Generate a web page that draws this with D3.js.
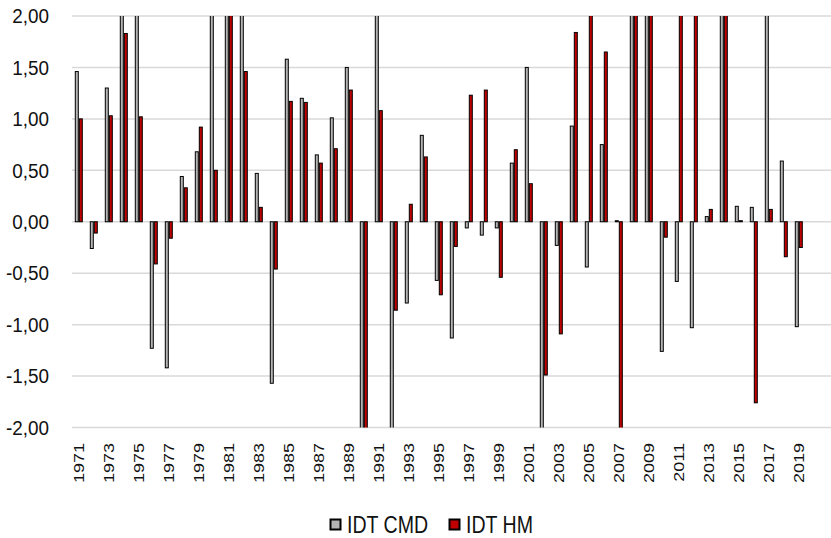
<!DOCTYPE html>
<meta charset="utf-8">
<style>
body { margin: 0; background: #fff; }
text { font-family: "Liberation Sans", Arial, sans-serif; fill: #111; }
.grid line { stroke: #d9d9d9; stroke-width: 1.5; }
.bar { stroke: #000; stroke-width: 1; }
</style>
<svg id="chart" width="831" height="538"></svg>
<script src="https://cdn.jsdelivr.net/npm/d3@7"></script>
<script>
// years 1971..2019, two series (values beyond +/-2 are cut off by the axis)
var years = [1971,1972,1973,1974,1975,1976,1977,1978,1979,1980,1981,1982,1983,1984,1985,1986,1987,1988,1989,1990,
             1991,1992,1993,1994,1995,1996,1997,1998,1999,2000,2001,2002,2003,2004,2005,2006,2007,2008,2009,2010,
             2011,2012,2013,2014,2015,2016,2017,2018,2019];

var idtCMD = [1.46,-0.26,1.30,2.60,2.30,-1.23,-1.42,0.44,0.68,2.40,2.80,2.20,0.47,-1.57,1.58,1.20,0.65,1.01,1.50,-2.60,
              2.50,-2.40,-0.79,0.84,-0.57,-1.13,-0.06,-0.13,-0.06,0.57,1.50,-2.20,-0.23,0.93,-0.44,0.75,0.01,2.90,2.70,-1.26,
              -0.58,-1.03,0.05,2.40,0.15,0.14,2.50,0.59,-1.02];

var idtHM  = [1.00,-0.11,1.03,1.83,1.02,-0.41,-0.16,0.33,0.92,0.50,2.50,1.46,0.14,-0.46,1.17,1.16,0.57,0.71,1.28,-2.30,
              1.08,-0.86,0.17,0.63,-0.71,-0.24,1.23,1.28,-0.54,0.70,0.37,-1.49,-1.09,1.84,2.30,1.65,-2.50,3.20,2.40,-0.15,
              2.60,2.30,0.12,2.70,0.01,-1.76,0.12,-0.34,-0.25];

var seriesKeys = ["IDT CMD", "IDT HM"];
var seriesColors = ["#b4b4b4", "#c00000"];
var yTicks = [-2,-1.5,-1,-0.5,0,0.5,1,1.5,2];
var xTickYears = years.filter(function(d){ return d % 2 === 1; });

var svg = d3.select("#chart"),
    width = +svg.attr("width"),
    plotLeft = 72, plotTop = 16, plotBottom = 427.5;

var rows = years.map(function(y, i){ return {year: y, vals: [idtCMD[i], idtHM[i]]}; });

var x0 = d3.scaleBand()
    .domain(years)
    .range([71.3, 71.3 + 15 * years.length])
    .paddingInner(7/15)
    .paddingOuter(3.5/15);

var x1 = d3.scaleBand()
    .domain([0, 1])
    .range([0, x0.bandwidth()]);

var y = d3.scaleLinear().domain([-2, 2]).range([plotBottom, plotTop]);

var loc = d3.formatLocale({decimal: ",", thousands: ".", grouping: [3], currency: ["", ""], minus: "-"});
var fmt = loc.format(".2f");

// gridlines
svg.append("g").attr("class", "grid")
  .selectAll("line")
  .data(yTicks)
  .enter().append("line")
    .attr("x1", plotLeft).attr("x2", width)
    .attr("y1", function(d){ return y(d); })
    .attr("y2", function(d){ return y(d); });

svg.append("clipPath").attr("id", "plotclip")
  .append("rect")
    .attr("x", plotLeft - 5).attr("y", plotTop)
    .attr("width", width - plotLeft + 5).attr("height", plotBottom - plotTop);

var bars = svg.append("g").attr("clip-path", "url(#plotclip)");

var grp = bars.selectAll(".yr")
  .data(rows)
  .enter().append("g")
    .attr("class", "yr")
    .attr("transform", function(d){ return "translate(" + x0(d.year) + ",0)"; });

grp.selectAll("rect")
  .data(function(d){ return d.vals.map(function(v, k){ return {k: k, v: v}; }); })
  .enter().append("rect")
    .attr("class", "bar")
    .attr("x", function(d){ return x1(d.k) + 0.5; })
    .attr("width", x1.bandwidth() - 1)
    .attr("y", function(d){ return y(Math.max(0, d.v)); })
    .attr("height", function(d){ return Math.abs(y(d.v) - y(0)); })
    .attr("fill", function(d){ return seriesColors[d.k]; });

// y axis
var yAxis = svg.append("g")
    .attr("transform", "translate(" + plotLeft + ",0)")
    .call(d3.axisLeft(y).tickValues(yTicks).tickFormat(fmt).tickSize(0).tickPadding(0));
yAxis.select(".domain").remove();
yAxis.selectAll("text")
    .attr("x", 0)
    .attr("transform", "translate(-23,0) scale(0.9,1)")
    .style("font-size", "21px")
    .style("font-family", "Liberation Sans, Arial, sans-serif")
    .attr("fill", "#111");

// x axis
var xAxis = svg.append("g")
    .attr("transform", "translate(0," + plotBottom + ")")
    .call(d3.axisBottom(x0).tickValues(xTickYears).tickSize(0).tickPadding(0));
xAxis.select(".domain").remove();
xAxis.selectAll("text")
    .attr("x", 0).attr("y", 0)
    .attr("dy", "0.35em")
    .attr("text-anchor", "end")
    .attr("transform", "translate(0,15.5) rotate(-90) scale(1,0.85)")
    .style("font-size", "18px")
    .style("font-family", "Liberation Sans, Arial, sans-serif")
    .attr("fill", "#111");

// legend
var legendPos = [329.5, 448.5];
var legend = svg.selectAll(".legend")
  .data(seriesKeys)
  .enter().append("g")
    .attr("class", "legend")
    .attr("transform", function(d, i){ return "translate(" + legendPos[i] + ",518.5)"; });

legend.append("rect")
    .attr("x", 1).attr("y", 1)
    .attr("width", 10).attr("height", 10)
    .attr("fill", function(d, i){ return seriesColors[i]; })
    .attr("stroke", "#000").attr("stroke-width", 2);

legend.append("text")
    .attr("transform", "translate(17.5,14.5) scale(0.815,1)")
    .style("font-size", "24px")
    .text(function(d){ return d; });
</script>
